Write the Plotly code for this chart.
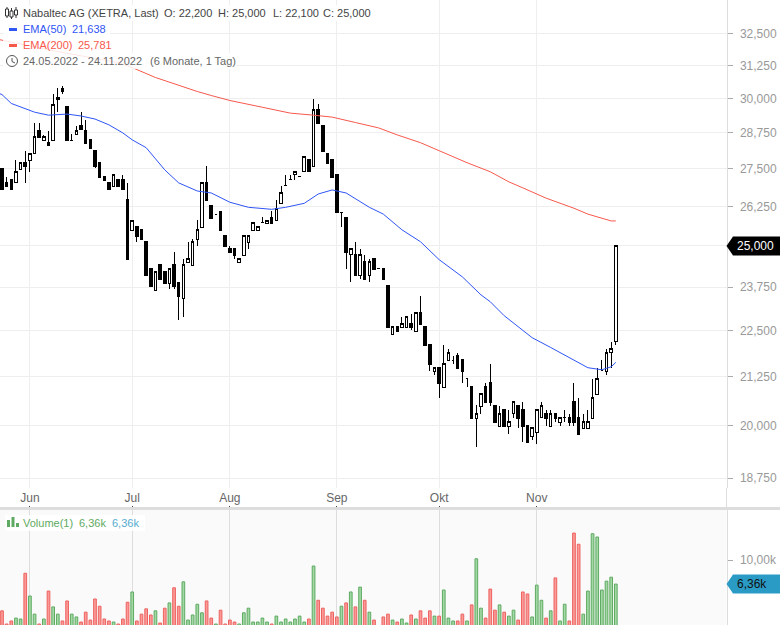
import pandas as pd
import plotly.graph_objects as go

dates = [d.strftime("%Y-%m-%d") for d in pd.bdate_range("2022-05-24", "2022-11-24")]
prior_date = "2022-05-23"
all_dates = [prior_date] + dates

open_ = [27500,27025,27130,27025,27480,27710,27780,28020,28820,28470,28400,28470,29975,30380,29715,28470,28700,29000,28820,28505,
 28125,27710,27230,27025,26890,27130,27130,26490,25470,25595,25500,25125,24300,23665,24420,24205,23870,24420,23900,23410,
 24480,24390,25190,25560,27025,26285,26000,26095,25310,24910,24910,24490,24695,25095,25470,25470,25720,25690,25906,25810,
 26350,26925,27130,27300,27230,27400,27810,27570,29610,29000,28020,27810,27300,26060,25906,24725,24725,24085,24510,24085,
 24600,24300,24300,23810,22390,22615,22585,22585,22700,22475,23010,22615,22120,21385,21495,20970,21685,21685,21820,21710,
 21200,20995,20180,20485,20995,21095,20510,19975,20410,19975,20305,20510,20410,20000,19735,19830,20205,20305,19975,20305,
 20075,20205,20205,20610,20205,19930,19930,20180,20790,21415,21385,21900,22200]
high = [27500,27230,27130,27810,27710,28125,28055,29110,29110,28680,28820,30190,30380,30490,29715,28715,29000,29500,29215,28505,
 28125,27710,27230,27025,27300,27130,27300,27025,25810,25595,25500,25125,24300,24205,24420,24205,24300,24815,23900,24600,
 25125,25220,25810,27025,27605,26285,26000,26095,25310,25000,24910,24600,25310,25310,25720,25595,25906,25810,26095,26450,
 26925,27300,27300,27400,27230,27920,27810,30000,29785,29000,28020,27810,27300,26060,25906,24910,25125,24910,24725,24600,
 24600,24300,24300,23810,22615,22615,22900,22900,22985,23010,23495,22615,22120,21495,21495,22120,22010,21820,21900,21710,
 21200,20995,20535,20815,21095,21600,20510,20510,20410,20410,20610,20510,20610,20000,19950,20410,20610,20410,20410,20305,
 20205,20410,20305,21095,20715,20305,20410,21200,21495,21710,22010,22200,25000]
low = [26790,26900,26790,27025,27480,27025,27400,28020,28575,28470,28300,28470,29500,30190,28470,28470,28700,28890,28370,28195,
 27535,27195,27095,26790,26890,26890,26790,24575,25470,25125,25190,24085,23780,23665,23965,23870,23690,23690,22815,22900,
 24480,24390,25000,25560,26450,25875,26000,25470,24970,24785,24600,24490,24695,24910,25470,25470,25720,25690,25690,25810,
 26350,26925,27130,27130,27230,27400,27400,27570,29080,28090,27675,27195,26060,25595,24300,23900,24085,23995,23965,23900,
 24270,24300,23965,22585,22390,22475,22585,22585,22530,22475,22670,22090,21415,21305,20715,20970,21685,21600,21470,21095,
 20995,20180,19495,20305,20585,20510,20075,19975,19975,19810,20205,19950,19615,19590,19665,19545,20205,20000,19975,20100,
 20000,20100,20000,20000,19785,19930,19930,20180,20790,21415,21305,21495,22100]
close = [26790,26900,26790,27400,27710,27570,28020,28610,28575,28610,28300,29785,30050,30265,28470,28470,28820,28890,28370,28195,
 27570,27195,27095,26790,27300,26890,26790,24575,25810,25280,25190,24085,23780,24205,23965,23870,24300,23780,23465,24420,
 24600,25125,25500,27025,26450,25875,26000,25470,24970,24785,24695,24600,25310,25310,25720,25595,25720,25810,25690,26190,
 26720,26925,27130,27400,27230,27920,27400,29610,29080,28090,27675,27195,26060,26060,24785,24910,24085,24725,23965,24510,
 24270,24300,23965,22585,22615,22475,22700,22900,22585,23010,22670,22090,21575,21495,21070,21600,21900,21685,21470,21385,
 21200,20180,20305,20815,20585,20585,20075,20305,19975,20100,20610,20180,19975,19590,19950,20410,20510,20180,20305,20180,
 20205,20205,20075,20075,19785,20100,20100,20715,21200,21415,21900,22010,25000]

volume_k = [2.3,0.3,0.76,1.2,1.06,8.0,4.55,1.8,0.3,1.06,5.3,2.9,1.8,0.76,3.8,1.8,1.37,0.6,2.1,0.9,
 4.1,3.0,1.06,0.76,0.6,0.3,1.06,3.6,5.16,0.76,1.8,2.6,1.67,2.3,0.45,2.7,3.5,5.8,3.0,6.7,
 0.9,1.67,3.3,2.0,3.8,1.2,0.3,2.4,0.3,0.9,0.6,0.3,2.0,2.7,0.6,0.6,1.2,0.6,0.3,1.5,
 0.6,1.06,0.6,1.06,1.5,0.6,1.06,9.1,3.9,2.7,1.5,2.1,1.37,3.0,3.5,5.16,2.9,5.9,3.9,2.1,
 0.9,None,1.37,1.8,0.9,0.6,1.06,0.45,1.67,1.06,2.3,1.2,2.3,1.5,1.5,5.46,1.2,0.76,0.76,1.8,
 0.76,3.2,10.2,2.7,1.2,5.6,2.4,3.2,2.1,1.5,2.4,0.9,5.16,4.86,1.37,6.2,3.9,1.2,2.3,7.3,
 0.76,3.3,0.76,14.1,12.4,1.8,5.3,14.0,13.5,5.46,6.8,7.4,6.36]
vol_red = [0,1,2,5,8,10,13,14,17,18,19,20,21,22,23,25,26,27,29,30,31,32,34,35,37,38,44,45,47,48,49,50,58,66,68,69,70,71,72,74,
           76,78,80,82,83,85,88,90,91,92,94,98,99,101,104,105,106,108,111,112,113,117,119,122,123,124]

ema50_d = [prior_date] + [dates[i] for i in [0,2,4,7,10,14,17,20,23,26,28,31,35,38,42,45,49,53,58,61,65,68,71,74,79,82,86,90,94,99,103,105,108,111,114,118,122,126,129,131,132]]
ema50_v = [30220,30150,29820,29680,29500,29390,29430,29360,29250,29040,28750,28505,28230,27465,27025,26755,26690,26385,26220,26155,26220,26350,26655,26790,26690,26220,26000,25500,25125,24575,24055,23525,23325,22925,22615,22310,22040,21765,21495,21440,21520,21638]
ema200_d = [prior_date] + [dates[i] for i in [0,12,25,28,33,38,42,45,49,56,62,67,71,76,81,85,90,94,100,105,109,112,117,123,126,131,132]]
ema200_v = [32290,32250,31800,31370,31175,30795,30490,30265,30115,29930,29680,29465,29390,29320,29125,28930,28680,28405,28125,27710,27400,27060,26860,26520,26190,26000,25781,25781]

price_ticks = [32500,31250,30000,28750,27500,26250,25000,23750,22500,21250,20000,18750]
price_labels = ["32,500","31,250","30,000","28,750","27,500","26,250","","23,750","22,500","21,250","20,000","18,750"]
month_ticks = ["2022-06-01","2022-07-01","2022-08-01","2022-09-01","2022-10-03","2022-11-01"]
month_labels = ["Jun","Jul","Aug","Sep","Okt","Nov"]

W, H = 780, 625
AX = 726.5
def fx(x): return x / W
def fy(y): return 1 - y / H

FONT = "Liberation Sans, Arial, sans-serif"
GRID = "#eeeeee"
GREEN, RED = "#5eaa62", "#ee6260"
GREEN_F, RED_F = "#a2d8a4", "#f99a96"
BLUE, ORANGE = "#2f55f5", "#f7584c"

vol_colors = [RED if i in vol_red else GREEN for i in range(len(dates))]
vol_fills = [RED_F if i in vol_red else GREEN_F for i in range(len(dates))]

fig = go.Figure()
fig.add_trace(go.Candlestick(
    x=dates, open=open_, high=high, low=low, close=close,
    increasing=dict(line=dict(color="#000000", width=1), fillcolor="#ffffff"),
    decreasing=dict(line=dict(color="#000000", width=1), fillcolor="#000000"),
    whiskerwidth=0, xaxis="x", yaxis="y", showlegend=False, hoverinfo="skip"))
fig.add_trace(go.Scatter(x=ema50_d, y=ema50_v, mode="lines", line=dict(color=BLUE, width=1),
                         xaxis="x", yaxis="y", showlegend=False, hoverinfo="skip"))
fig.add_trace(go.Scatter(x=ema200_d, y=ema200_v, mode="lines", line=dict(color=ORANGE, width=1),
                         xaxis="x", yaxis="y", showlegend=False, hoverinfo="skip"))
fig.add_trace(go.Bar(x=dates, y=[None if v is None else v * 1000 for v in volume_k],
                     marker=dict(color=vol_fills, line=dict(color=vol_colors, width=1)),
                     xaxis="x2", yaxis="y2", showlegend=False, hoverinfo="skip"))

xr = [0.57, 156.8]
shapes, ann = [], []
def rect(x0, y0, x1, y1, fill, layer="above", line=None, opacity=1):
    shapes.append(dict(type="rect", xref="paper", yref="paper", x0=fx(x0), x1=fx(x1), y0=fy(y0), y1=fy(y1),
                       fillcolor=fill, line=dict(width=0) if line is None else line, layer=layer, opacity=opacity))
def seg(x0, y0, x1, y1, color, width=1, layer="above"):
    shapes.append(dict(type="line", xref="paper", yref="paper", x0=fx(x0), x1=fx(x1), y0=fy(y0), y1=fy(y1),
                       line=dict(color=color, width=width), layer=layer))
def text(x, y, s, color, size=11):
    ann.append(dict(xref="paper", yref="paper", x=fx(x), y=fy(y), text=s, showarrow=False, xanchor="left", yanchor="middle",
                    align="left", font=dict(family=FONT, size=size, color=color), borderpad=0))
def tag(y, half, fill):
    p = [(AX, y), (733, y - half), (780, y - half), (780, y + half), (733, y + half)]
    path = "M " + " L ".join(f"{fx(a):.5f} {fy(b):.5f}" for a, b in p) + " Z"
    shapes.append(dict(type="path", xref="paper", yref="paper", path=path, fillcolor=fill, line=dict(width=0), layer="above"))

rect(0, 510, AX, 625, "#fafafa", layer="below")
rect(0, 507, 780, 510, "#dddddd")
seg(AX, 488, AX, 507, "#dddddd")
for x0, y0, x1, y1 in [(3, 5, 372, 21), (3, 21, 110, 37), (3, 37, 115, 53), (3, 53, 237, 69), (5, 515, 145, 531)]:
    rect(x0, y0, x1, y1, "#ffffff", opacity=0.85)
for xc, a, b, c, d in [(7, 7, 9, 16, 18), (11.5, 8, 11, 17, 19), (16, 7, 10, 15, 18)]:
    seg(xc, a, xc, d, "#333333")
    rect(xc - 1.5, b, xc + 1.5, c, "#ffffff", line=dict(color="#333333", width=1))
rect(9, 28, 17, 31, BLUE)
rect(9, 44, 17, 47, ORANGE)
shapes.append(dict(type="circle", xref="paper", yref="paper", x0=fx(6.5), x1=fx(17.5), y0=fy(66.5), y1=fy(55.5),
                   line=dict(color="#555555", width=1), fillcolor="rgba(0,0,0,0)", layer="above"))
seg(12, 58, 12, 61.5, "#555555")
seg(12, 61.5, 15, 63, "#555555")
rect(7, 520, 10, 527, GREEN)
rect(11.5, 517, 14.5, 527, GREEN)
rect(16, 523, 19, 527, GREEN)

text(22, 13, "Nabaltec AG (XETRA, Last)", "#444444")
text(163, 13, "O: 22,200", "#444444")
text(217, 13, "H: 25,000", "#444444")
text(272, 13, "L: 22,100", "#444444")
text(322, 13, "C: 25,000", "#444444")
text(22, 29, "EMA(50)", BLUE); text(71, 29, "21,638", BLUE)
text(22, 45, "EMA(200)", ORANGE); text(77, 45, "25,781", ORANGE)
text(22, 61, "24.05.2022 - 24.11.2022", "#666666"); text(149, 61, "(6 Monate, 1 Tag)", "#666666")
text(22, 523, "Volume(1)", GREEN); text(78, 523, "6,36k", GREEN); text(111, 523, "6,36k", "#55abd0")

tag(246, 9.5, "#000000")
text(736, 246, "25,000", "#ffffff", 12)
tag(584, 9.5, "#2a9bc4")
text(736, 584, "6,36k", "#111111", 12)

fig.update_layout(
    width=W, height=H, margin=dict(l=0, r=0, t=0, b=0), paper_bgcolor="#ffffff", plot_bgcolor="rgba(0,0,0,0)",
    font=dict(family=FONT, size=12, color="#666666"), showlegend=False, bargap=0.42, boxgap=0.22,
    shapes=shapes, annotations=ann, hovermode=False,
    xaxis=dict(domain=[0, fx(AX)], anchor="y", type="category", categoryorder="array", categoryarray=all_dates, range=xr,
               rangeslider=dict(visible=False), tickmode="array", tickvals=month_ticks, ticktext=month_labels,
               showgrid=True, gridcolor=GRID, gridwidth=1, showline=False, ticks="", ticklabelstandoff=1,
               tickfont=dict(family=FONT, size=12, color="#666666"), zeroline=False),
    yaxis=dict(domain=[fy(488), 1], anchor="x", side="right", type="log", range=[4.26762, 4.53017],
               tickmode="array", tickvals=price_ticks, ticktext=price_labels, showgrid=True, gridcolor=GRID, gridwidth=1,
               showline=True, linecolor="#dddddd", linewidth=1, ticks="outside", ticklen=5, tickcolor="#aaaaaa",
               tickfont=dict(family=FONT, size=12, color="#999999"), ticklabelstandoff=5, zeroline=False),
    xaxis2=dict(domain=[0, fx(AX)], anchor="y2", side="top", type="category", categoryorder="array", categoryarray=all_dates,
                range=xr, tickmode="array", tickvals=month_ticks, ticktext=["" for _ in month_ticks], showgrid=True,
                gridcolor="#dddddd", gridwidth=1, ticks="outside", ticklen=3, tickcolor="#444444", showline=False, zeroline=False),
    yaxis2=dict(domain=[0, fy(510)], anchor="x2", side="right", range=[150, 17600], tickmode="array", tickvals=[10000],
                ticktext=["10,00k"], showgrid=False, showline=True, linecolor="#dddddd", linewidth=1, ticks="outside",
                ticklen=5, tickcolor="#aaaaaa", tickfont=dict(family=FONT, size=12, color="#999999"), ticklabelstandoff=5, zeroline=False),
)
post = ("document.body.style.margin='0';document.body.style.overflow='hidden';"
        "var s=document.createElement('style');s.textContent='.boxlayer path{shape-rendering:crispEdges !important}';"
        "document.head.appendChild(s);")
fig.write_html("out.html", config={"displayModeBar": False}, post_script=post)
